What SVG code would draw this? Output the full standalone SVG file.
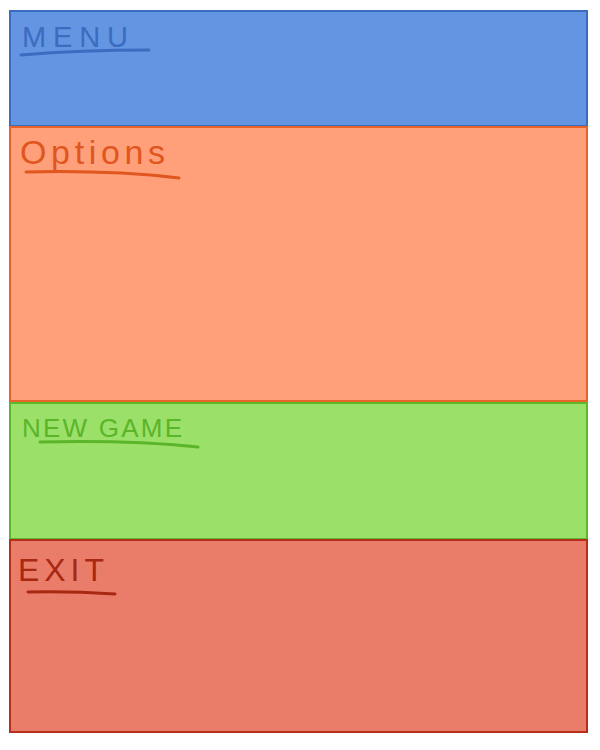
<svg xmlns="http://www.w3.org/2000/svg" width="600" height="750" viewBox="0 0 600 750">
<style>
.box{stroke-width:2}
.lbl{font-family:"Liberation Sans",Arial,sans-serif;font-weight:normal}
.ul{fill:none;stroke-width:3;stroke-linecap:round}
</style>
<rect width="600" height="750" fill="#ffffff"/>
<g id="menu">
<rect class="box" x="10" y="11" width="577" height="115" fill="#6495E2" stroke="#3A6CC0"/>
<text class="lbl" x="22" y="47" font-size="29" fill="#3A6CC0" textLength="106" lengthAdjust="spacing">MENU</text>
<path class="ul" d="M21,55 Q80,50 149,50" stroke="#3A6CC0"/>
</g>
<g id="options">
<rect class="box" x="10" y="127" width="577" height="274" fill="#FFA07A" stroke="#E8622A"/>
<text class="lbl" x="20" y="164" font-size="34" fill="#E0561E" textLength="145" lengthAdjust="spacing">Options</text>
<path class="ul" d="M26,172 Q110,170 179,178" stroke="#E0561E"/>
</g>
<g id="newgame">
<rect class="box" x="10" y="403" width="577" height="136" fill="#9BE068" stroke="#5DB82C"/>
<text class="lbl" x="22" y="437" font-size="26" fill="#5AB52A" textLength="160" lengthAdjust="spacing">NEW GAME</text>
<path class="ul" d="M40,442 Q130,440 198,447" stroke="#5AB52A"/>
</g>
<g id="exit">
<rect class="box" x="10" y="540" width="577" height="192" fill="#EA7D69" stroke="#B5301A"/>
<text class="lbl" x="18" y="581" font-size="32" fill="#A82812" textLength="86" lengthAdjust="spacing">EXIT</text>
<path class="ul" d="M28,592 Q70,591 115,594" stroke="#A82812"/>
</g>
<g id="connectors"/>
</svg>
